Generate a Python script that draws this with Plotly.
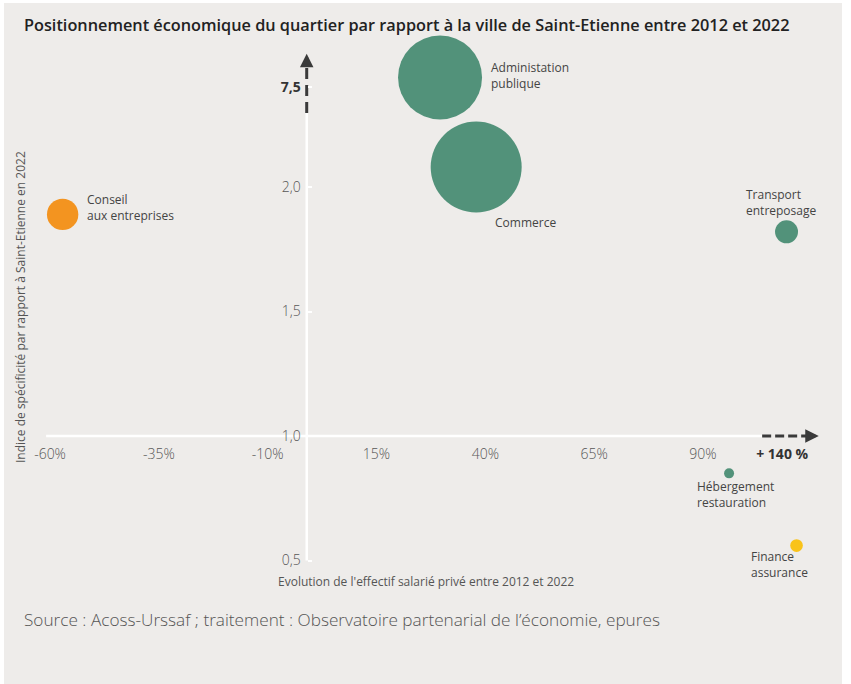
import plotly.graph_objects as go

# ---------------- DATA ----------------
secteurs = ["Conseil<br>aux entreprises", "Administation<br>publique", "Commerce",
            "Transport<br>entreposage", "Hébergement<br>restauration", "Finance<br>assurance"]
# position along the (broken) x axis: evolution of private employment 2012-2022 (%)
evolution = [-57.1, 29.6, 37.9, 109.2, 96.0, 111.5]
# position along the (broken) y axis: specificity index vs Saint-Etienne 2022
indice = [1.89, 2.44, 2.08, 1.82, 0.85, 0.56]
# relative weight (bubble area)
poids = [246, 1764, 2070, 132, 25, 40]
groupes = ["orange", "vert", "vert", "vert", "vert", "jaune"]

x_ticks = [-60, -35, -10, 15, 40, 65, 90]
x_tick_labels = ["-60%", "-35%", "-10%", "15%", "40%", "65%", "90%"]
x_break_value = 108.2
x_break_label = "+ 140 %"

y_ticks = [0.5, 1.0, 1.5, 2.0]
y_tick_labels = ["0,5", "1,0", "1,5", "2,0"]
y_break_value = 2.403
y_break_label = "7,5"

# ---------------- STYLE / LAYOUT ----------------
W, H = 851, 684
X_RANGE = [-71.49, 124.01]
Y_RANGE = [0.004, 2.751]
X_CROSS = -1.03   # where the vertical axis sits (x value)
Y_CROSS = 1.0     # where the horizontal axis sits (y value)

PALETTE = {"orange": "#f39420", "vert": "#52927a", "jaune": "#f9c31a"}
BG = "#eeecea"
DARK = "#3a3a3a"
TXT = "#444444"
TICK = "#575757"
FONT = "Open Sans"

# label offsets in pixels (xshift, yshift) for each bubble label
label_offsets = [(22, 7), (49, 2), (17, -55), (-43, 29), (-34, -21), (-48, -19)]

fig = go.Figure()

fig.add_trace(go.Scatter(
    x=evolution, y=indice, mode="markers",
    marker=dict(size=poids, sizemode="area", sizeref=0.5,
                color=[PALETTE[g] for g in groupes], opacity=1,
                line=dict(width=0)),
    hovertext=[s.replace("<br>", " ") for s in secteurs], hoverinfo="text",
    showlegend=False, cliponaxis=False,
))

shapes = []
# gray panel
shapes.append(dict(type="rect", xref="paper", yref="paper", x0=4 / W, x1=842 / W,
                   y0=0, y1=1 - 3 / H, fillcolor=BG, line=dict(width=0), layer="below"))
# white axis lines
x_line_end = 103.6
y_line_end = 2.297
shapes.append(dict(type="line", xref="x", yref="y", x0=-60.9, x1=x_line_end,
                   y0=Y_CROSS, y1=Y_CROSS, line=dict(color="white", width=2.5), layer="below"))
shapes.append(dict(type="line", xref="x", yref="y", x0=X_CROSS, x1=X_CROSS,
                   y0=0.5, y1=y_line_end, line=dict(color="white", width=2.5), layer="below"))
# dashed extensions (axis breaks)
shapes.append(dict(type="line", xref="x", yref="y", x0=x_line_end, x1=114.5,
                   y0=Y_CROSS, y1=Y_CROSS, line=dict(color=DARK, width=3, dash="9px,4px"),
                   layer="below"))
shapes.append(dict(type="line", xref="x", yref="y", x0=X_CROSS, x1=X_CROSS,
                   y0=y_line_end, y1=2.49, line=dict(color=DARK, width=3, dash="11px,6px"),
                   layer="below"))

annotations = []
# arrowheads
annotations.append(dict(x=116.6, y=Y_CROSS, ax=114.0, ay=Y_CROSS, xref="x", yref="y",
                        axref="x", ayref="y", text="", showarrow=True, arrowhead=2,
                        arrowsize=0.9, arrowwidth=3, arrowcolor=DARK))
annotations.append(dict(x=X_CROSS, y=2.535, ax=X_CROSS, ay=2.49, xref="x", yref="y",
                        axref="x", ayref="y", text="", showarrow=True, arrowhead=2,
                        arrowsize=0.9, arrowwidth=3, arrowcolor=DARK))

# bubble labels
for s, xv, yv, (dx, dy) in zip(secteurs, evolution, indice, label_offsets):
    annotations.append(dict(x=xv, y=yv, xref="x", yref="y", text=s, showarrow=False,
                            xanchor="left", yanchor="middle", align="left",
                            xshift=dx, yshift=dy,
                            font=dict(family=FONT, size=12, color=TXT)))

# title
annotations.append(dict(x=22 / W, y=1 - 25 / H, xref="paper", yref="paper",
                        text="Positionnement économique du quartier par rapport à la ville de Saint-Etienne entre 2012 et 2022",
                        showarrow=False, xanchor="left", yanchor="middle",
                        font=dict(family=FONT, size=16.3, color="#222222", weight=600)))
# source
annotations.append(dict(x=22 / W, y=1 - 619 / H, xref="paper", yref="paper",
                        text="Source : Acoss-Urssaf ; traitement : Observatoire partenarial de l’économie, epures",
                        showarrow=False, xanchor="left", yanchor="middle",
                        font=dict(family=FONT, size=17.2, color="#555555", weight=300)))
# axis titles
annotations.append(dict(x=426 / W, y=1 - 581 / H, xref="paper", yref="paper",
                        text="Evolution de l'effectif salarié privé entre 2012 et 2022",
                        showarrow=False, xanchor="center", yanchor="middle",
                        font=dict(family=FONT, size=12, color="#555555")))
annotations.append(dict(x=20 / W, y=1 - 307 / H, xref="paper", yref="paper",
                        text="Indice de spécificité par rapport à Saint-Etienne en 2022",
                        showarrow=False, xanchor="center", yanchor="middle", textangle=-90,
                        font=dict(family=FONT, size=12, color="#555555")))

xpos = (Y_CROSS - Y_RANGE[0]) / (Y_RANGE[1] - Y_RANGE[0])
ypos = (X_CROSS - X_RANGE[0]) / (X_RANGE[1] - X_RANGE[0])

bold = "<span style='color:#333333'><b>{}</b></span>"

fig.update_layout(
    width=W, height=H,
    margin=dict(l=0, r=0, t=0, b=0, pad=0),
    paper_bgcolor="white", plot_bgcolor="rgba(0,0,0,0)",
    shapes=shapes, annotations=annotations,
    xaxis=dict(range=X_RANGE, anchor="free", position=xpos, showgrid=False,
               zeroline=False, showline=False, ticks="",
               tickvals=x_ticks + [x_break_value],
               ticktext=x_tick_labels + [bold.format(x_break_label)],
               tickfont=dict(family=FONT, size=14, color=TICK, weight=300),
               ticklabelstandoff=8, fixedrange=True),
    yaxis=dict(range=Y_RANGE, anchor="free", position=ypos, showgrid=False,
               zeroline=False, showline=False, ticks="inside", ticklen=4,
               tickcolor="white", tickwidth=2,
               tickvals=y_ticks + [y_break_value],
               ticktext=y_tick_labels + [bold.format(y_break_label)],
               tickfont=dict(family=FONT, size=14, color=TICK, weight=300),
               ticklabelstandoff=6, fixedrange=True),
)

fig.write_html("out.html", config={"displayModeBar": False},
               post_script="document.body.style.margin='0px';document.body.style.overflow='hidden';")
